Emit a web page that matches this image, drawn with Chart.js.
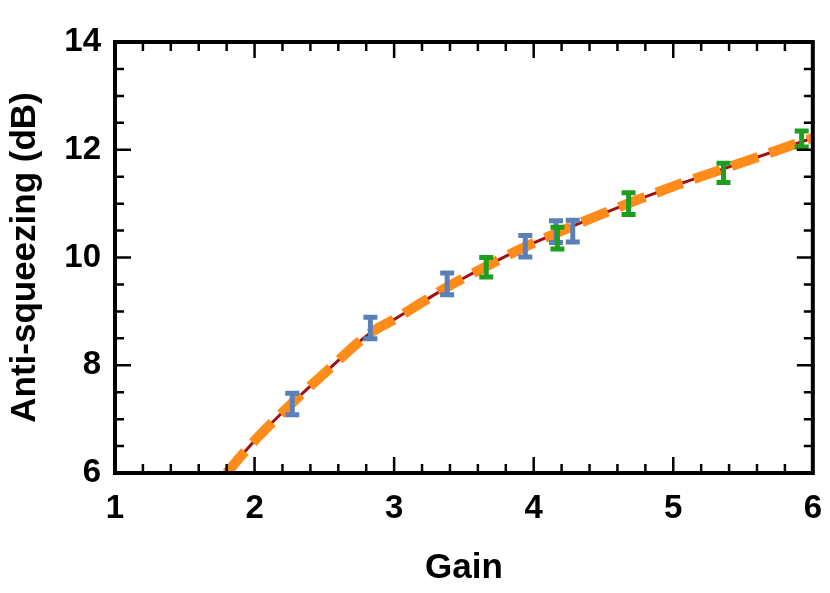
<!DOCTYPE html><html><head><style>html,body{margin:0;background:#fff}</style>
<script src="https://cdn.jsdelivr.net/npm/chart.js@4"></script></head><body>
<div style="width:830px;height:593px"><canvas id="c"></canvas></div>
<script>
const curveX=[1.8,2.0,2.27,2.5,2.83,3.0,3.38,3.5,3.94,4.0,4.5,5.0,5.5,6.0];
const curveY=[6.0,6.6,7.3,7.85,8.6,8.85,9.45,9.62,10.2,10.27,10.82,11.32,11.77,12.22];
const blueX=[2.27,2.83,3.38,3.94,4.16,4.28];
const blueY=[7.28,8.69,9.51,10.21,10.48,10.49];
const blueErr=[0.2,0.2,0.2,0.2,0.2,0.2];
const greenX=[3.66,4.17,4.68,5.36,5.92];
const greenY=[9.82,10.36,11.0,11.57,12.2];
const greenErr=[0.18,0.2,0.2,0.18,0.15];
const xTicks=[1,2,3,4,5,6], yTicks=[6,8,10,12,14];
const pts=(xs,ys)=>xs.map((x,i)=>({x,y:ys[i]}));
const font={family:'Liberation Sans, Arial',weight:'bold',size:33};
const errPlugin={id:'err',afterDatasetsDraw(ch){
  const c=ch.ctx,xs=ch.scales.x,ys=ch.scales.y,a=ch.chartArea;
  c.save();c.beginPath();c.rect(a.left,a.top,a.right-a.left,a.bottom-a.top);c.clip();
  [[blueX,blueY,blueErr,'#5b80b8'],[greenX,greenY,greenErr,'#1e9e1e']].forEach(([X,Y,E,col])=>{
    c.strokeStyle=col;c.lineWidth=5;
    X.forEach((x,i)=>{const px=xs.getPixelForValue(x),t=ys.getPixelForValue(Y[i]+E[i]),b=ys.getPixelForValue(Y[i]-E[i]);
      c.beginPath();c.moveTo(px,t);c.lineTo(px,b);c.moveTo(px-7,t);c.lineTo(px+7,t);c.moveTo(px-7,b);c.lineTo(px+7,b);c.stroke();});
  });
  c.restore();
  c.save();c.strokeStyle='#000';c.lineWidth=4;c.strokeRect(a.left,a.top,a.right-a.left,a.bottom-a.top);
  c.lineWidth=2.5;c.beginPath();
  for(let v=1;v<=6.001;v+=0.2){const p=xs.getPixelForValue(v),big=Math.abs(v-Math.round(v))<1e-6,L=big?16:9;
    c.moveTo(p,a.bottom);c.lineTo(p,a.bottom-L);c.moveTo(p,a.top);c.lineTo(p,a.top+L);}
  for(let v=6;v<=14.001;v+=0.5){const p=ys.getPixelForValue(v),big=Math.abs(v/2-Math.round(v/2))<1e-6,L=big?16:9;
    c.moveTo(a.left,p);c.lineTo(a.left+L,p);c.moveTo(a.right,p);c.lineTo(a.right-L,p);}
  c.stroke();c.restore();
}};
new Chart(document.getElementById('c'),{type:'scatter',
 data:{datasets:[
  {data:pts(curveX,curveY),showLine:true,borderColor:'#ff8c1a',borderWidth:10,borderDash:[28,12],pointRadius:0,cubicInterpolationMode:'monotone',order:1},
  {data:pts(curveX,curveY),showLine:true,borderColor:'#a01010',borderWidth:3,pointRadius:0,cubicInterpolationMode:'monotone',order:2}
 ]},
 plugins:[errPlugin],
 options:{responsive:true,maintainAspectRatio:false,animation:false,
  layout:{padding:{top:42,right:15}},
  plugins:{legend:{display:false},tooltip:{enabled:false}},
  scales:{
   x:{min:1,max:6,afterBuildTicks(s){s.ticks=xTicks.map(v=>({value:v}));},afterFit(s){s.height=120;},
      grid:{display:false},border:{display:false},
      ticks:{color:'#000',font,padding:8,maxRotation:0},
      title:{display:true,text:'Gain',color:'#000',font:{...font,size:35},padding:{top:10}}},
   y:{min:6,max:14,afterBuildTicks(s){s.ticks=yTicks.map(v=>({value:v}));},afterFit(s){s.width=115;},
      grid:{display:false},border:{display:false},
      ticks:{color:'#000',font,padding:6},
      title:{display:true,text:'Anti-squeezing (dB)',color:'#000',font:{...font,size:35},padding:{bottom:4}}}
  }}});
</script></body></html>
